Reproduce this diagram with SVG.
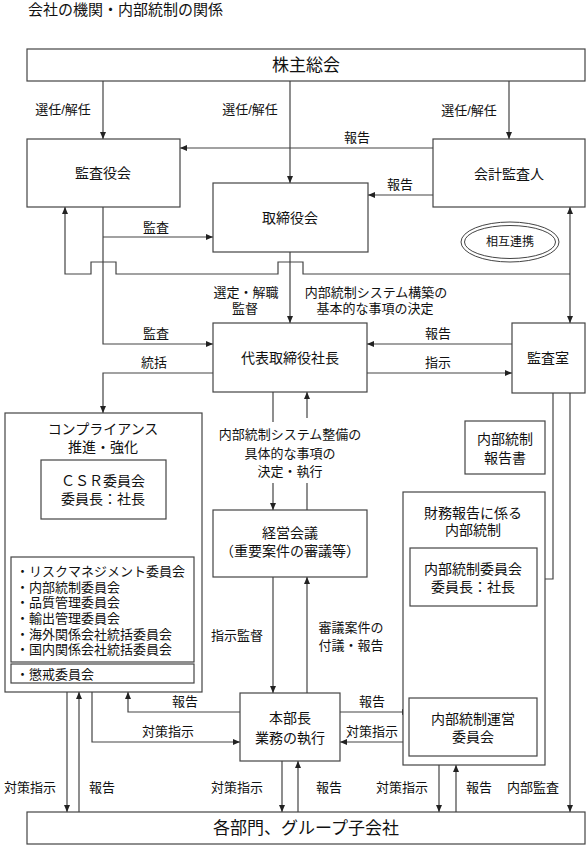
<svg xmlns="http://www.w3.org/2000/svg" width="586" height="845" viewBox="0 0 586 845">
<defs>
<marker id="ah" markerUnits="userSpaceOnUse" markerWidth="8" markerHeight="8" refX="7" refY="4" orient="auto-start-reverse">
<path d="M0,1 L7,4 L0,7 Z" fill="#222"/>
</marker>
<style>
text{font-family:"Liberation Sans","Noto Sans CJK JP",sans-serif;fill:#111;text-anchor:middle;dominant-baseline:central}
.b{fill:#fff;stroke:#444;stroke-width:1.2}
.t17{font-size:17px}
.t14{font-size:14px}
.t13{font-size:13px}
.t12{font-size:12px}
.l{text-anchor:start}
#connectors path{fill:none;stroke:#444;stroke-width:1.2}
.a{marker-end:url(#ah)}
.a2{marker-start:url(#ah);marker-end:url(#ah)}
</style>
</defs>
<rect width="586" height="845" fill="#fff"/>
<text x="28" y="9" class="l" style="font-size:15px">会社の機関・内部統制の関係</text>

<g id="connectors">
<path class="a" d="M103,81 V139"/>
<path class="a" d="M290,81 V183"/>
<path class="a" d="M509,81 V139"/>
<path class="a" d="M433,148 H180"/>
<path class="a" d="M433,195 H368"/>
<path class="a" d="M103,207 V344 H213"/>
<path class="a" d="M103,237 H213"/>
<path class="a" d="M570,274 H303 V262 H278 V274 H116 V262 H91 V274 H65 V207"/>
<path class="a2" d="M570,207 V323"/>
<path class="a" d="M290,252 V323"/>
<path class="a" d="M512,344 H367"/>
<path class="a" d="M367,373 H512"/>
<path class="a" d="M213,373 H103 V413"/>
<path d="M273,392 V422"/>
<path class="a" d="M273,483 V510"/>
<path d="M307,510 V483"/>
<path class="a" d="M307,418 V392"/>
<path class="a" d="M273,577 V693"/>
<path class="a" d="M307,693 V577"/>
<path class="a" d="M87,519 V557"/>
<path class="a" d="M121,557 V519"/>
<path class="a" d="M67,692 V812"/>
<path class="a" d="M79,812 V692"/>
<path class="a" d="M240,712 H128 V692"/>
<path class="a" d="M92,692 V742 H240"/>
<path class="a" d="M282,761 V812"/>
<path class="a" d="M298,812 V761"/>
<path class="a" d="M340,712 H409"/>
<path class="a" d="M409,742 H340"/>
<path class="a" d="M483,606 V698"/>
<path class="a" d="M500,698 V606"/>
<path class="a" d="M439,765 V812"/>
<path class="a" d="M456,812 V765"/>
<path class="a" d="M553,393 V579 H537"/>
<path class="a" d="M570,393 V812"/>
</g>

<g id="labels">
<text x="63" y="109" class="t13">選任/解任</text>
<text x="250" y="109" class="t13">選任/解任</text>
<text x="469" y="110" class="t13">選任/解任</text>
<text x="357" y="137" class="t13">報告</text>
<text x="400" y="184" class="t13">報告</text>
<text x="156" y="227" class="t13">監査</text>
<text class="t13"><tspan x="246" y="292">選定・解職</tspan><tspan x="245" y="308">監督</tspan></text>
<text class="t13"><tspan x="376" y="292">内部統制システム構築の</tspan><tspan x="375" y="308">基本的な事項の決定</tspan></text>
<text x="156" y="333" class="t13">監査</text>
<text x="154" y="362" class="t13">統括</text>
<text x="438" y="333" class="t13">報告</text>
<text x="438" y="362" class="t13">指示</text>
<text class="t13"><tspan x="290" y="434">内部統制システム整備の</tspan><tspan x="290" y="453">具体的な事項の</tspan><tspan x="290" y="471">決定・執行</tspan></text>
<text x="237" y="635" class="t13">指示監督</text>
<text class="t13"><tspan x="351" y="627">審議案件の</tspan><tspan x="351" y="645">付議・報告</tspan></text>
<text x="50" y="539" class="t13">対策指示</text>
<text x="143" y="539" class="t13">報告</text>
<text x="447" y="653" class="t13">対策指示</text>
<text x="522" y="653" class="t13">報告</text>
<text x="185" y="701" class="t13">報告</text>
<text x="168" y="731" class="t13">対策指示</text>
<text x="372" y="701" class="t13">報告</text>
<text x="372" y="731" class="t13">対策指示</text>
<text x="30" y="787" class="t13">対策指示</text>
<text x="102" y="787" class="t13">報告</text>
<text x="237" y="787" class="t13">対策指示</text>
<text x="329" y="787" class="t13">報告</text>
<text x="402" y="787" class="t13">対策指示</text>
<text x="479" y="787" class="t13">報告</text>
<text x="533" y="787" class="t13">内部監査</text>
</g>

<g id="shareholders">
<rect class="b" x="27" y="49" width="558" height="32"/>
<text x="306" y="65" class="t17">株主総会</text>
</g>
<g id="auditors-board">
<rect class="b" x="27" y="139" width="153" height="68"/>
<text x="103" y="173" class="t14">監査役会</text>
</g>
<g id="accounting-auditor">
<rect class="b" x="433" y="139" width="152" height="68"/>
<text x="509" y="174" class="t14">会計監査人</text>
</g>
<g id="board">
<rect class="b" x="213" y="183" width="155" height="69"/>
<text x="290" y="218" class="t14">取締役会</text>
</g>
<g id="mutual">
<ellipse cx="510" cy="242" rx="49" ry="20" fill="#fff" stroke="#444" stroke-width="1"/>
<ellipse cx="510" cy="242" rx="45.5" ry="16.5" fill="none" stroke="#444" stroke-width="1"/>
<text x="510" y="242" class="t12">相互連携</text>
</g>
<g id="president">
<rect class="b" x="213" y="323" width="154" height="69"/>
<text x="290" y="358" class="t14">代表取締役社長</text>
</g>
<g id="audit-office">
<rect class="b" x="512" y="323" width="73" height="70"/>
<text x="548" y="358" class="t14">監査室</text>
</g>
<g id="compliance">
<rect class="b" x="5" y="413" width="197" height="279"/>
<text class="t14"><tspan x="103" y="429">コンプライアンス</tspan><tspan x="103" y="447">推進・強化</tspan></text>
</g>
<g id="csr">
<rect class="b" x="41" y="460" width="125" height="59"/>
<text class="t14"><tspan x="103" y="481">ＣＳＲ委員会</tspan><tspan x="103" y="499">委員長：社長</tspan></text>
</g>
<g id="committees">
<rect class="b" x="11" y="557" width="183" height="105"/>
<text class="t13 l"><tspan x="16" y="571">・リスクマネジメント委員会</tspan><tspan x="16" y="587">・内部統制委員会</tspan><tspan x="16" y="602">・品質管理委員会</tspan><tspan x="16" y="618">・輸出管理委員会</tspan><tspan x="16" y="634">・海外関係会社統括委員会</tspan><tspan x="16" y="649">・国内関係会社統括委員会</tspan></text>
</g>
<g id="disciplinary">
<rect class="b" x="11" y="664" width="183" height="19"/>
<text x="16" y="674" class="t13 l">・懲戒委員会</text>
</g>
<g id="management-meeting">
<rect class="b" x="213" y="510" width="154" height="67"/>
<text class="t14"><tspan x="290" y="533">経営会議</tspan><tspan x="290" y="551">（重要案件の審議等）</tspan></text>
</g>
<g id="ic-report">
<rect class="b" x="465" y="421" width="80" height="53"/>
<text class="t14"><tspan x="505" y="439">内部統制</tspan><tspan x="505" y="458">報告書</tspan></text>
</g>
<g id="financial-ic">
<rect class="b" x="403" y="492" width="142" height="273"/>
<text class="t14"><tspan x="473" y="513">財務報告に係る</tspan><tspan x="473" y="530">内部統制</tspan></text>
</g>
<g id="ic-committee">
<rect class="b" x="410" y="548" width="127" height="58"/>
<text class="t14"><tspan x="473" y="569">内部統制委員会</tspan><tspan x="473" y="587">委員長：社長</tspan></text>
</g>
<g id="ic-operation">
<rect class="b" x="409" y="698" width="128" height="58"/>
<text class="t14"><tspan x="473" y="719">内部統制運営</tspan><tspan x="473" y="737">委員会</tspan></text>
</g>
<g id="division-head">
<rect class="b" x="240" y="693" width="100" height="68"/>
<text class="t14"><tspan x="290" y="718">本部長</tspan><tspan x="290" y="738">業務の執行</tspan></text>
</g>
<g id="departments">
<rect class="b" x="27" y="812" width="558" height="32"/>
<text x="306" y="828" class="t17">各部門、グループ子会社</text>
</g>
</svg>
